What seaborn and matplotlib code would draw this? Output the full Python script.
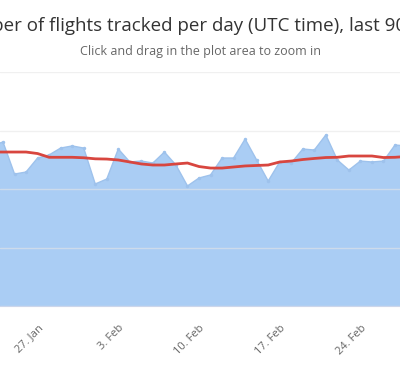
import pandas as pd
import matplotlib.pyplot as plt
import matplotlib.dates as mdates
import seaborn as sns

sns.set_style("white")
plt.rcParams["font.family"] = ["Open Sans", "DejaVu Sans"]

# === datos (23 ene - 28 feb) ===
fechas = pd.date_range("2019-01-23", "2019-02-28", freq="D")
vuelos = [136800, 140200, 112800, 114500, 126500, 129100, 135000, 136800, 135000,
          104300, 108500, 134200, 123100, 123900, 122200, 131600, 120500, 102600,
          109400, 112000, 126500, 126500, 142700, 124800, 106800, 123100, 122200,
          134200, 133300, 146200, 124800, 116200, 123900, 123100, 123900, 137600,
          136800]
promedio = [131600, 131600, 131600, 131600, 130300, 127100, 127100, 127100, 126700,
            125800, 125600, 124800, 123100, 121400, 120500, 120500, 121400, 122200,
            119200, 117900, 117900, 118800, 119700, 120100, 120500, 123100, 123900,
            125200, 126100, 126900, 127100, 128200, 128200, 128200, 126900, 127100,
            127800]
ticks = ["2019-01-27", "2019-02-03", "2019-02-10", "2019-02-17", "2019-02-24"]

df = pd.DataFrame({"fecha": fechas, "vuelos": vuelos, "promedio": promedio})

# === figura ===
fig = plt.figure(figsize=(4, 3.67), dpi=100)
ax = fig.add_axes([0, 1 - 306 / 367, 1, (306 - 72) / 367])

ax.fill_between(df["fecha"], df["vuelos"], 0, color="#aacdf4", lw=0, zorder=2)
sns.lineplot(data=df, x="fecha", y="vuelos", ax=ax, color="#9ec2ec", lw=1,
             marker="o", markersize=2.5, markeredgewidth=0, zorder=3)
sns.lineplot(data=df, x="fecha", y="promedio", ax=ax, color="#d8463f", lw=2,
             zorder=4)

x0 = pd.Timestamp("2019-01-24") - pd.Timedelta(days=3 / 11.53)
x1 = pd.Timestamp("2019-01-24") + pd.Timedelta(days=397 / 11.53)
ax.set_xlim(x0, x1)
ax.set_ylim(0, 200000)
ax.set_yticks([0, 50000, 100000, 150000, 200000])
ax.set_yticklabels([])
ax.tick_params(axis="y", length=0)
ax.grid(axis="y", color="#e6e6e6", lw=1, zorder=5, alpha=0.6)
ax.grid(axis="x", visible=False)
ax.set_axisbelow(False)

ax.set_xticks(pd.to_datetime(ticks))
ax.xaxis.set_major_formatter(mdates.DateFormatter("%-d. %b"))
ax.tick_params(axis="x", length=10, color="#ccd6eb", width=1, labelsize=8,
               labelcolor="#666666", pad=2)
for lbl in ax.get_xticklabels():
    lbl.set_rotation(45)
    lbl.set_ha("right")
    lbl.set_rotation_mode("anchor")

for s in ["top", "left", "right"]:
    ax.spines[s].set_visible(False)
ax.spines["bottom"].set_color("#ccd6eb")
ax.set_xlabel("")
ax.set_ylabel("")

fig.text(0.5, 1 - 26 / 367, "Number of flights tracked per day (UTC time), last 90 days",
         ha="center", va="center", fontsize=13.5, color="#333333")
fig.text(0.5, 1 - 52 / 367, "Click and drag in the plot area to zoom in",
         ha="center", va="center", fontsize=9, color="#666666")

fig.savefig("out.png", dpi=100)
